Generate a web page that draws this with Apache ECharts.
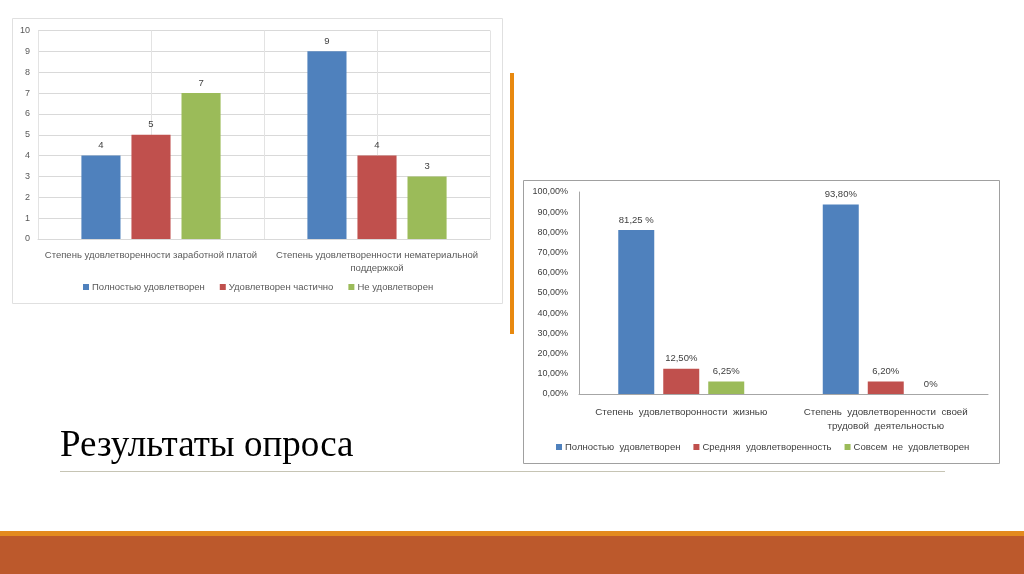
<!DOCTYPE html>
<html>
<head>
<meta charset="utf-8">
<script src="https://cdn.jsdelivr.net/npm/echarts@6/dist/echarts.min.js"></script>
<style>html,body{margin:0;padding:0;background:#fff}#c{width:1024px;height:574px}</style>
</head>
<body>
<div id="c"></div>
<script>
// Left chart data
var leftCategories = ['Степень удовлетворенности заработной платой', 'Степень удовлетворенности нематериальной\nподдержкой'];
var leftSeriesNames = ['Полностью удовлетворен', 'Удовлетворен частично', 'Не удовлетворен'];
var leftFull = [4, 9];
var leftPartial = [5, 4];
var leftNot = [7, 3];
var leftTicks = [0, 1, 2, 3, 4, 5, 6, 7, 8, 9, 10];

// Right chart data
var rightCategories = ['Степень  удовлетворонности  жизнью', 'Степень  удовлетворенности  своей\nтрудовой  деятельностью'];
var rightSeriesNames = ['Полностью  удовлетворен', 'Средняя  удовлетворенность', 'Совсем  не  удовлетворен'];
var rightFull = [81.25, 93.8];
var rightMedium = [12.5, 6.2];
var rightNone = [6.25, 0];
var rightFullLabels = ['81,25 %', '93,80%'];
var rightMediumLabels = ['12,50%', '6,20%'];
var rightNoneLabels = ['6,25%', '0%'];
var rightTicks = ['0,00%', '10,00%', '20,00%', '30,00%', '40,00%', '50,00%', '60,00%', '70,00%', '80,00%', '90,00%', '100,00%'];

var colors = ['#4f81bd', '#c0504d', '#9bbb59'];
var font = 'Liberation Sans';
var txt = '#595959';

var chart = echarts.init(document.getElementById('c'), null, {renderer: 'canvas'});

function leftSeries(name, data, color) {
  return {
    type: 'bar', name: name, data: data, xAxisIndex: 0, yAxisIndex: 0,
    barWidth: '17.3%', barGap: '28%',
    itemStyle: {color: color},
    label: {show: true, position: 'top', distance: 5, fontFamily: font, fontSize: 9.5, color: '#404040'}
  };
}
function rightSeries(name, data, labels, color) {
  return {
    type: 'bar', name: name, data: data, xAxisIndex: 1, yAxisIndex: 1,
    barWidth: '17.6%', barGap: '25%',
    itemStyle: {color: color},
    label: {show: true, position: 'top', distance: 5, fontFamily: font, fontSize: 9.5, color: '#404040',
      formatter: function (p) { return labels[p.dataIndex]; }}
  };
}

var option = {
  animation: false,
  color: colors,
  graphic: [
    {type: 'rect', shape: {x: 12.5, y: 18.5, width: 490, height: 285}, style: {fill: '#fff', stroke: '#e0e0e0', lineWidth: 1}, z: -10},
    {type: 'rect', shape: {x: 523.5, y: 180.5, width: 476, height: 283}, style: {fill: '#fff', stroke: '#a0a0a0', lineWidth: 1}, z: -10},
    {type: 'rect', shape: {x: 510, y: 73, width: 4, height: 261}, style: {fill: '#e8890f'}},
    {type: 'rect', shape: {x: 60, y: 471, width: 885, height: 1}, style: {fill: '#c6c4b4'}},
    {type: 'rect', shape: {x: 0, y: 531, width: 1024, height: 5}, style: {fill: '#e38a1f'}},
    {type: 'rect', shape: {x: 0, y: 536, width: 1024, height: 38}, style: {fill: '#bc592c'}},
    {type: 'text', x: 60, y: 428, style: {text: 'Результаты опроса', fontFamily: 'Liberation Serif', fontSize: 37, fill: '#000'}}
  ],
  grid: [
    {left: 38, top: 30.5, width: 452, height: 208.5},
    {left: 579, top: 192, width: 409, height: 202}
  ],
  legend: [
    {data: leftSeriesNames, top: 282, left: 83, itemWidth: 6, itemHeight: 6, itemGap: 15, icon: 'rect',
      textStyle: {fontFamily: font, fontSize: 9.5, color: txt, padding: [0, 0, 0, -2]}, padding: 0},
    {data: rightSeriesNames, top: 442, left: 556, itemWidth: 6, itemHeight: 6, itemGap: 13, icon: 'rect',
      textStyle: {fontFamily: font, fontSize: 9.5, color: '#404040', padding: [0, 0, 0, -2]}, padding: 0}
  ],
  xAxis: [
    {type: 'category', gridIndex: 0, data: leftCategories,
      axisLine: {lineStyle: {color: '#d9d9d9'}}, axisTick: {show: false},
      axisLabel: {fontFamily: font, fontSize: 9.5, color: txt, margin: 10, lineHeight: 13, interval: 0}},
    {type: 'category', gridIndex: 1, data: rightCategories,
      axisLine: {lineStyle: {color: '#a6a6a6'}}, axisTick: {show: false},
      axisLabel: {fontFamily: font, fontSize: 9.8, color: '#404040', margin: 11, lineHeight: 14, interval: 0}},
    {type: 'value', gridIndex: 0, min: 0, max: 4, interval: 1, show: true,
      axisLine: {show: false}, axisTick: {show: false}, axisLabel: {show: false},
      splitLine: {show: true, lineStyle: {color: '#e3e3e3'}}}
  ],
  yAxis: [
    {type: 'value', gridIndex: 0, min: 0, max: 10, interval: 1,
      axisLine: {show: false}, axisTick: {show: false},
      splitLine: {lineStyle: {color: '#d9d9d9'}},
      axisLabel: {fontFamily: font, fontSize: 9, color: txt, margin: 8,
        formatter: function (v) { return String(leftTicks[Math.round(v)]); }}},
    {type: 'value', gridIndex: 1, min: 0, max: 100, interval: 10,
      axisLine: {show: true, lineStyle: {color: '#a6a6a6'}}, axisTick: {show: false},
      splitLine: {show: false},
      axisLabel: {fontFamily: font, fontSize: 9, color: '#404040', margin: 11,
        formatter: function (v) { return rightTicks[Math.round(v / 10)]; }}}
  ],
  series: [
    leftSeries(leftSeriesNames[0], leftFull, colors[0]),
    leftSeries(leftSeriesNames[1], leftPartial, colors[1]),
    leftSeries(leftSeriesNames[2], leftNot, colors[2]),
    rightSeries(rightSeriesNames[0], rightFull, rightFullLabels, colors[0]),
    rightSeries(rightSeriesNames[1], rightMedium, rightMediumLabels, colors[1]),
    rightSeries(rightSeriesNames[2], rightNone, rightNoneLabels, colors[2])
  ]
};
chart.setOption(option);
</script>
</body>
</html>
